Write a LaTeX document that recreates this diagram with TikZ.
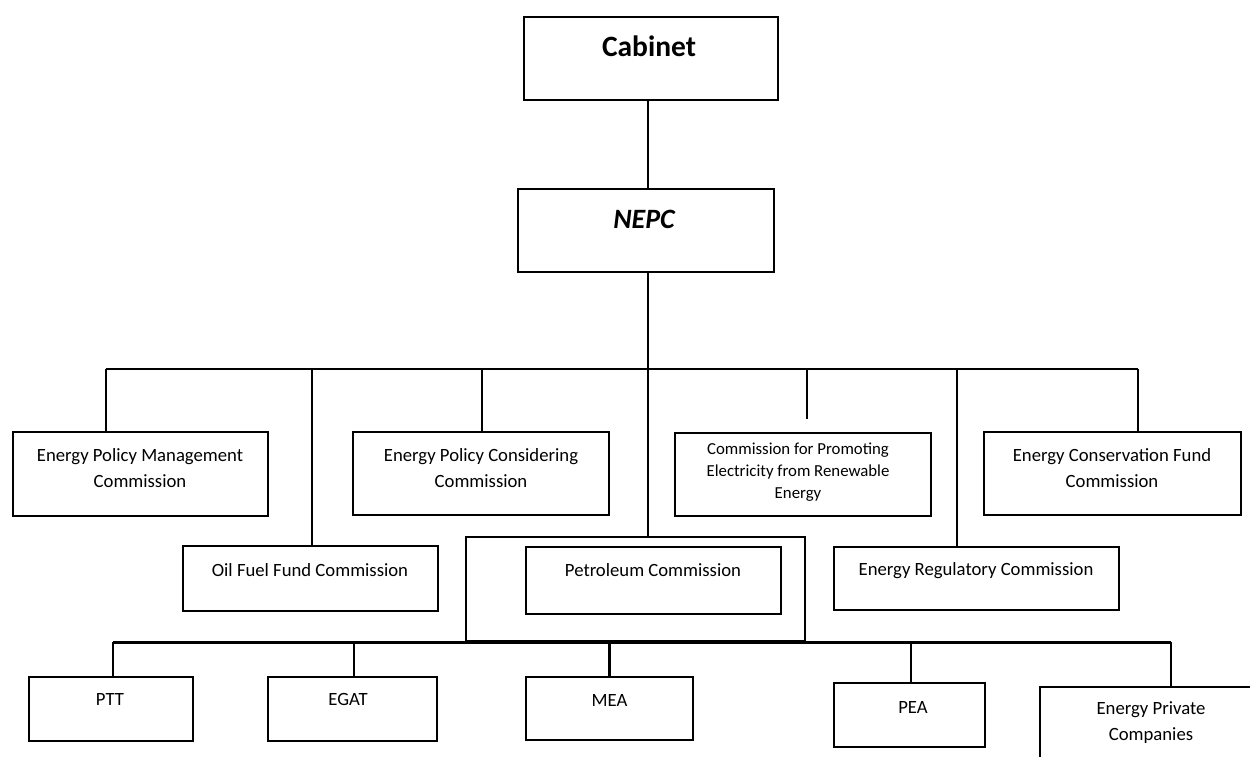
\documentclass[tikz,border=0pt]{standalone}
\usepackage{fontspec}
\setmainfont{Carlito}
\begin{document}
\begin{tikzpicture}[x=1pt,y=-1pt,
  box/.style={draw, rectangle, line width=2pt, inner sep=0pt},
  frm/.style={draw, rectangle, line width=2.6pt, inner sep=0pt},
  txt/.style={inner sep=0pt, align=center, anchor=base, font=\fontsize{18.7}{25.8}\selectfont},
  smalltxt/.style={inner sep=0pt, align=center, anchor=base, font=\fontsize{16.8}{22}\selectfont},
  c1/.style={line width=1.3pt},
  c2/.style={line width=1.9pt},
  c3/.style={line width=2.7pt},
  c4/.style={line width=2pt}]
\useasboundingbox (0,0) rectangle (1250,757);
\clip (0,0) rectangle (1250,757);

% boxes
\node[box, minimum width=254pt, minimum height=83pt] (cab) at (651,58.5) {};
\node[box, minimum width=256pt, minimum height=83pt] (nepc) at (646,230.5) {};
\node[box, minimum width=255pt, minimum height=84pt] (epm) at (140.5,474) {};
\node[box, minimum width=256pt, minimum height=83pt] (epc) at (481,473.5) {};
\node[box, minimum width=256pt, minimum height=83pt] (cpe) at (803,474.5) {};
\node[box, minimum width=257pt, minimum height=83pt] (ecf) at (1112.5,473.5) {};
\node[box, minimum width=255pt, minimum height=65pt] (off) at (310.5,578.5) {};
\node[frm, minimum width=339pt, minimum height=104pt] (pcf) at (635.5,589) {};
\node[box, line width=2.3pt, minimum width=255pt, minimum height=67pt] (pc) at (653.5,580.5) {};
\node[box, minimum width=285pt, minimum height=63pt] (erc) at (976.5,578.5) {};
\node[box, minimum width=164pt, minimum height=64pt] (ptt) at (111,709) {};
\node[box, minimum width=169pt, minimum height=64pt] (egat) at (352.5,709) {};
\node[box, minimum width=167pt, minimum height=63pt] (mea) at (609.5,708.5) {};
\node[box, minimum width=151pt, minimum height=64pt] (pea) at (909.5,715) {};
\node[box, minimum width=240pt, minimum height=100pt] (epco) at (1160,737) {};

% texts
\node[txt, font=\bfseries\fontsize{29.5}{34}\selectfont] (tcab) at (649,57) {Cabinet};
\node[txt, font=\bfseries\itshape\fontsize{28}{32}\selectfont] (tnepc) at (644,228) {NEPC};
\node[txt] (tepm) at (140,487) {Energy Policy Management\\Commission};
\node[txt] (tepc) at (481,487) {Energy Policy Considering\\Commission};
\node[smalltxt] (tcpe) at (798,498) {Commission for Promoting\\Electricity from Renewable\\Energy};
\node[txt] (tecf) at (1112,487) {Energy Conservation Fund\\Commission};
\node[txt] (toff) at (310,576) {Oil Fuel Fund Commission};
\node[txt] (tpc) at (653,576) {Petroleum Commission};
\node[txt] (terc) at (976,575) {Energy Regulatory Commission};
\node[txt] (tptt) at (110,705) {PTT};
\node[txt] (tegat) at (348,705) {EGAT};
\node[txt] (tmea) at (609.5,706) {MEA};
\node[txt] (tpea) at (913,713) {PEA};
\node[txt] (tepco) at (1151,740) {Energy Private\\Companies};

% top connectors
\coordinate (k0) at ([xshift=-3pt]cab.south);
\draw[c1] (k0) -- (k0 |- nepc.north);
\coordinate (k1) at ([xshift=2pt]nepc.south);
\draw[c1] (k1) -- (k1 |- pcf.north);
\coordinate (hub) at (648,369);
\coordinate (d1) at ([xshift=-34.5pt]epm.north);
\coordinate (d2) at ([xshift=1.5pt]off.north);
\coordinate (d3) at ([xshift=1pt]epc.north);
\coordinate (d4) at ([xshift=4pt]cpe.north);
\coordinate (d4e) at ([yshift=13pt]d4);
\coordinate (d5) at ([xshift=-19.5pt]erc.north);
\coordinate (d6) at ([xshift=25.5pt]ecf.north);
\draw[c2] (d1 |- hub) -- (d6 |- hub);
\draw[c2] (d1 |- hub) -- (d1);
\draw[c2] (d2 |- hub) -- (d2);
\draw[c2] (d3 |- hub) -- (d3);
\draw[c2] (d4 |- hub) -- (d4e);
\draw[c2] (d5 |- hub) -- (d5);
\draw[c2] (d6 |- hub) -- (d6);

% bottom connectors
\coordinate (e1) at ([xshift=2pt]ptt.north);
\coordinate (e2) at ([xshift=1.5pt]egat.north);
\coordinate (e3) at (mea.north);
\coordinate (e4) at ([xshift=1.5pt]pea.north);
\coordinate (e5) at ([xshift=11pt]epco.north);
\draw[c3] (e1 |- pcf.south) -- (e5 |- pcf.south);
\draw[c3] (e1 |- pcf.south) -- (e1);
\draw[c4] (e2 |- pcf.south) -- (e2);
\draw[c3] (e3 |- pcf.south) -- (e3);
\draw[c4] (e4 |- pcf.south) -- (e4);
\draw[c4] (e5 |- pcf.south) -- (e5);
\end{tikzpicture}
\end{document}
